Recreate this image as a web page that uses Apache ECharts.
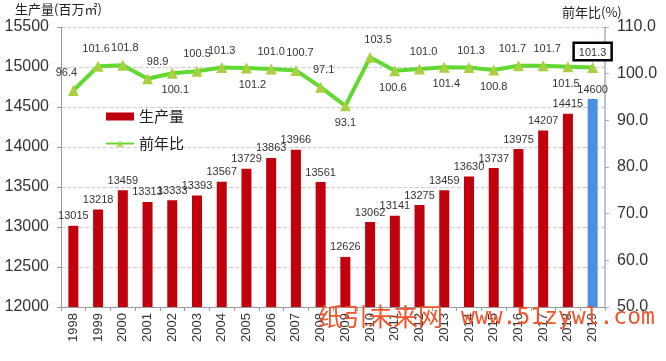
<!DOCTYPE html>
<html><head><meta charset="utf-8">
<script src="https://cdn.jsdelivr.net/npm/echarts@6/dist/echarts.min.js"></script>
<style>html,body{margin:0;padding:0;background:#fff}#c{width:666px;height:361px}</style>
</head><body><div id="c"></div>
<script>
const years = ['1998','1999','2000','2001','2002','2003','2004','2005','2006','2007','2008','2009','2010','2011','2012','2013','2014','2015','2016','2017','2018','2019'];
const production = [13015,13218,13459,13313,13333,13393,13567,13729,13863,13966,13561,12626,13062,13141,13275,13459,13630,13737,13975,14207,14415,14600];
const yoy = [96.4,101.6,101.8,98.9,100.1,100.5,101.3,101.2,101.0,100.7,97.1,93.1,103.5,100.6,101.0,101.4,101.3,100.8,101.7,101.7,101.5,101.3];
const leftTicks = [12000,12500,13000,13500,14000,14500,15000,15500];
const rightTicks = [50,60,70,80,90,100,110];
const yoyLabelPos = ['top','top','top','top','bottom','top','top','bottom','top','top','top','bottom','top','bottom','top','bottom','top','bottom','top','top','bottom','top'];
const yoyLabelDx = [-7,-2,2,10,3,0,0,6,0,4,3,0,8,-2,4,2,2,0,-6,4,-2,0];

const chart = echarts.init(document.getElementById('c'));
const RED = '#c0000c', BLUE = '#4a8fe0';
const FONT = '"Liberation Sans", "DejaVu Sans", sans-serif';
const barData = production.map((v,i)=>({value:v, itemStyle:{color: i===production.length-1?BLUE:RED}}));
const lineData = yoy.map((v,i)=>{
  const d = {value:v, label:{position:yoyLabelPos[i], offset:[yoyLabelDx[i],0]}};
  if(i===yoy.length-1){
    d.label = {position:'top', offset:[0,3], borderColor:'#000', borderWidth:2.5, padding:[3,4,1,4], backgroundColor:'#fff'};
  }
  return d;
});
chart.setOption({
  animation:false,
  textStyle:{fontFamily:'"Noto Sans CJK SC", "DejaVu Sans", sans-serif'},
  grid:{left:61, right:61, top:27, bottom:54},
  legend:{
    orient:'vertical', left:100, top:104, itemGap:12, itemWidth:28, itemHeight:8,
    textStyle:{fontSize:15, color:'#222'},
    data:[{name:'生产量', icon:'rect'}, {name:'前年比'}]
  },
  graphic:[
    {type:'text', left:15, top:3, style:{text:'生产量(百万㎡)', fill:'#222', font:'13px "Noto Sans CJK SC"'}},
    {type:'text', left:562, top:6, style:{text:'前年比(%)', fill:'#222', font:'13px "Noto Sans CJK SC"'}},
    {type:'text', left:318, top:304, z:100, style:{text:'纸引未来网', fill:'#f0542a', font:'25px "Noto Sans CJK SC"'}},
    {type:'text', left:461, top:307, z:100, style:{text:'www.51zywl.com', fill:'#f0542a', font:'23px "DejaVu Sans Mono"'}}
  ],
  xAxis:{
    type:'category', data:years,
    axisLine:{lineStyle:{color:'#999'}},
    axisTick:{show:true, length:4, lineStyle:{color:'#999'}},
    axisLabel:{rotate:90, fontSize:13, color:'#333', margin:6, fontFamily:FONT}
  },
  yAxis:[
    {type:'value', min:12000, max:15500, interval:500,
     axisLine:{show:true, lineStyle:{color:'#999'}},
     axisTick:{show:true, length:4, lineStyle:{color:'#999'}},
     axisLabel:{fontSize:16, color:'#333', margin:12, fontFamily:FONT, formatter:v=>String(v)},
     splitLine:{lineStyle:{color:'#ccc', type:'dashed'}}},
    {type:'value', min:50, max:110, interval:10,
     axisLine:{show:true, lineStyle:{color:'#a8b0c0', width:1.5}},
     axisTick:{show:true, length:4, lineStyle:{color:'#a8b0c0'}},
     axisLabel:{fontSize:16, color:'#333', margin:12, formatter:v=>v.toFixed(1), fontFamily:FONT},
     splitLine:{show:false}}
  ],
  series:[
    {name:'生产量', type:'bar', data:barData, barWidth:10, itemStyle:{color:RED},
     label:{show:true, position:'top', distance:4, fontSize:11, color:'#333', fontFamily:FONT}},
    {name:'前年比', type:'line', yAxisIndex:1, data:lineData,
     lineStyle:{color:'#62d830', width:4},
     itemStyle:{color:'#a8d040'},
     symbol:'triangle', symbolSize:11,
     label:{show:true, fontSize:11, color:'#333', distance:6, fontFamily:FONT, formatter:p=>p.value.toFixed(1)}}
  ]
});
</script></body></html>
